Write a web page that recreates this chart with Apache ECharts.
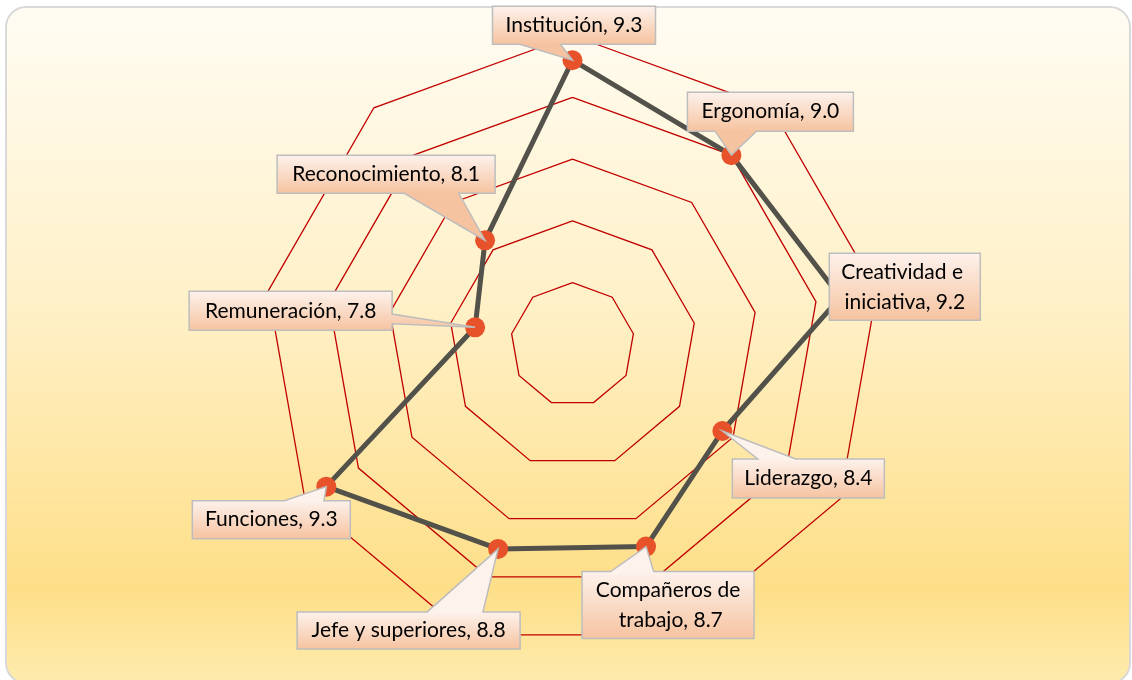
<!DOCTYPE html>
<html>
<head>
<meta charset="utf-8">
<title>Satisfacción</title>
<style>
  html, body { margin: 0; padding: 0; background: #fff; }
  #chart { width: 1132px; height: 680px; }
</style>
<script src="https://cdn.jsdelivr.net/npm/echarts@6/dist/echarts.min.js"></script>
</head>
<body>
<div id="chart"></div>
<script>
// categorías en el orden del gráfico (sentido horario desde arriba)
const categorias = ['Institución', 'Ergonomía', 'Creatividad e iniciativa', 'Liderazgo',
  'Compañeros de trabajo', 'Jefe y superiores', 'Funciones', 'Remuneración', 'Reconocimiento']
// valores
const valores = [9.3, 9.0, 9.2, 8.4, 8.74, 8.76, 9.3, 7.8, 8.1]
// escala radial
const ejeMin = 7
const ejeMax = 9.5
const ejeDivisiones = 5

// cajas de las etiquetas: desplazamiento de la esquina sup. izq. respecto al punto, ancho, alto
const cajas = [
  [-80, -54, 163, 38],
  [-44, -63, 166, 39],
  [-11, -44, 151, 67],
  [10, 28, 152, 39],
  [-64, 25, 172, 67],
  [-201, 63, 223, 37],
  [-134, 14, 158, 38],
  [-286, -36, 203, 39],
  [-208, -85, 218, 38]
]

const centro = [572.5, 344.5]
const radio = 309

// puntos de la llamada (rectángulo + cuña hacia el punto)
function llamada(x, y, w, h, tx, ty) {
  let dx = tx - (x + w / 2)
  let dy = ty - (y + h / 2)
  if (tx >= x && tx <= x + w && ty >= y && ty <= y + h) {
    return [[x, y], [x + w, y], [x + w, y + h], [x, y + h]]
  }
  if (Math.abs(dy) > Math.abs(dx * h / w)) {
    let x1 = x + w * (dx > 0 ? 7 : 2) / 12
    let x2 = x + w * (dx > 0 ? 10 : 5) / 12
    if (dy > 0) {
      return [[x, y], [x + w, y], [x + w, y + h], [x2, y + h], [tx, ty], [x1, y + h], [x, y + h]]
    }
    return [[x, y], [x1, y], [tx, ty], [x2, y], [x + w, y], [x + w, y + h], [x, y + h]]
  }
  let y1 = y + h * (dy > 0 ? 7 : 2) / 12
  let y2 = y + h * (dy > 0 ? 10 : 5) / 12
  if (dx > 0) {
    return [[x, y], [x + w, y], [x + w, y1], [tx, ty], [x + w, y2], [x + w, y + h], [x, y + h]]
  }
  return [[x, y], [x + w, y], [x + w, y + h], [x, y + h], [x, y2], [tx, ty], [x, y1]]
}

let mychart = echarts.init(document.getElementById('chart'))

let option = {
  backgroundColor: '#fff',
  animation: false,
  graphic: [
    {
      type: 'rect',
      z: -10,
      shape: { x: 6, y: 7, width: 1124, height: 676, r: 20 },
      style: {
        fill: new echarts.graphic.LinearGradient(0, 0, 0, 1, [
          { offset: 0, color: '#fffcf3' },
          { offset: 0.45, color: '#fff0c6' },
          { offset: 0.86, color: '#fedf88' },
          { offset: 1, color: '#feebae' }
        ]),
        stroke: '#d9d9d9',
        lineWidth: 2
      }
    }
  ],
  // anillos del radar
  radar: {
    center: centro,
    radius: radio,
    startAngle: 90,
    shape: 'polygon',
    splitNumber: ejeDivisiones,
    indicator: categorias.map(function (c) {
      return { name: c, min: ejeMin, max: ejeMax }
    }),
    axisName: { show: false },
    axisLine: { show: false },
    axisTick: { show: false },
    axisLabel: { show: false },
    splitArea: { show: false },
    splitLine: { lineStyle: { color: '#c00000', width: 1.3 } }
  },
  // sistema polar superpuesto para la serie
  polar: { center: centro, radius: radio },
  angleAxis: {
    type: 'category',
    data: categorias,
    startAngle: 90,
    clockwise: true,
    boundaryGap: false,
    show: false
  },
  radiusAxis: {
    type: 'value',
    min: ejeMin,
    max: ejeMax,
    show: false
  },
  series: [
    {
      type: 'custom',
      coordinateSystem: 'polar',
      z: 5,
      data: valores.map(function (v, i) { return [v, i] }),
      renderItem: function (params, api) {
        let i = params.dataIndex
        let n = valores.length
        let j = (i + 1) % n
        let p = api.coord([api.value(0), i])
        let q = api.coord([valores[j], j])
        let c = cajas[i]
        let bx = p[0] + c[0]
        let by = p[1] + c[1]
        let w = c[2]
        let h = c[3]
        // solo las cajas de dos líneas parten el texto
        let dosLineas = h > 50
        return {
          type: 'group',
          children: [
            {
              type: 'line',
              z2: 1,
              shape: { x1: p[0], y1: p[1], x2: q[0], y2: q[1] },
              style: { stroke: '#52524a', lineWidth: 5, lineCap: 'round' }
            },
            {
              type: 'circle',
              z2: 2,
              shape: { cx: p[0], cy: p[1], r: 10 },
              style: { fill: '#e8522a' }
            },
            {
              type: 'polygon',
              z2: 3,
              shape: { points: llamada(bx, by, w, h, p[0], p[1]) },
              style: {
                fill: new echarts.graphic.LinearGradient(0, by, 0, by + h, [
                  { offset: 0, color: '#fdf2ec' },
                  { offset: 1, color: '#f6c3a0' }
                ], true),
                stroke: '#bdbdbd',
                lineWidth: 1.5
              }
            },
            {
              type: 'text',
              z2: 4,
              style: {
                text: categorias[i] + ', ' + valores[i].toFixed(1),
                x: bx + w / 2,
                y: by + h / 2,
                align: 'center',
                verticalAlign: 'middle',
                width: dosLineas ? w - 14 : undefined,
                overflow: dosLineas ? 'break' : 'none',
                lineHeight: 30,
                fontSize: 21,
                fontFamily: 'Lato',
                fill: '#000'
              }
            }
          ]
        }
      }
    }
  ]
}

mychart.setOption(option)
</script>
</body>
</html>
